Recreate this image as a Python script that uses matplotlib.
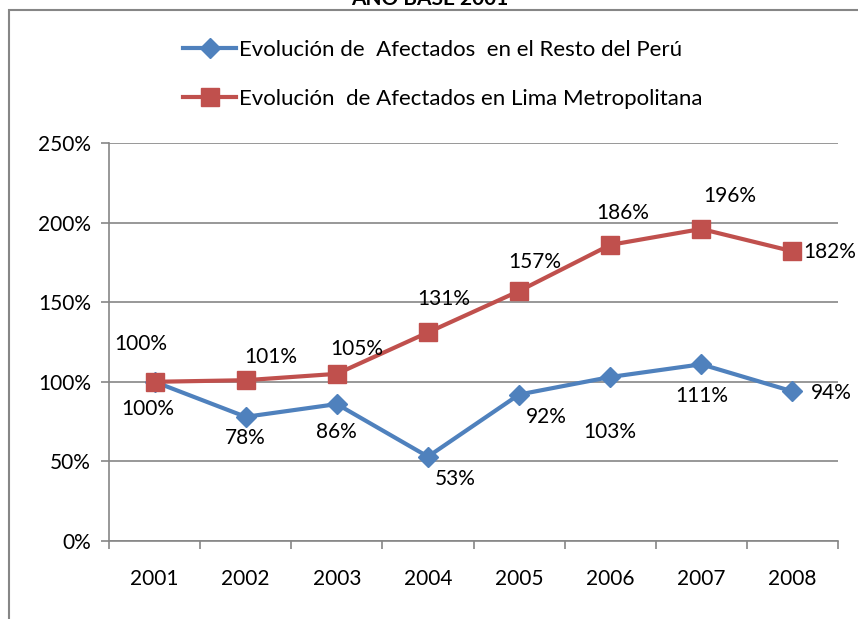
import numpy as np
import matplotlib
matplotlib.use("Agg")
import matplotlib.pyplot as plt
from matplotlib.patches import Rectangle

plt.rcParams['font.family'] = ['Lato', 'DejaVu Sans']

years = ["2001", "2002", "2003", "2004", "2005", "2006", "2007", "2008"]
resto_peru = [100, 78, 86, 53, 92, 103, 111, 94]
lima_metro = [100, 101, 105, 131, 157, 186, 196, 182]
label_resto = "Evolución de  Afectados  en el Resto del Perú"
label_lima = "Evolución  de Afectados en Lima Metropolitana"

# label offsets (pixels) as placed in the original chart
off_resto = [(-7, -27), (0, -21), (0, -28), (27, -22), (27, -22), (0, -55), (0, -32), (39, -2)]
off_lima = [(-14, 38), (25, 23), (20, 25), (16, 33), (16, 29), (13, 32), (28, 33), (37, -1)]

blue = "#4F81BD"
red = "#C0504D"
grid_c = "#868686"
fs = 15

fig = plt.figure(figsize=(8.58, 6.19), dpi=100)
W, H = 858, 619
ax = fig.add_axes([109 / W, 1 - 541 / H, (838 - 109) / W, (541 - 143) / H])

x = np.arange(len(years))
ax.plot(x, resto_peru, color=blue, lw=3, marker="D", ms=10, label=label_resto, zorder=3)
ax.plot(x, lima_metro, color=red, lw=3, marker="s", ms=12.5, label=label_lima, zorder=3)

for i, v in enumerate(resto_peru):
    ax.annotate(f"{v}%", (x[i], v), xytext=off_resto[i], textcoords="offset pixels",
                ha="center", va="center", fontsize=fs)
for i, v in enumerate(lima_metro):
    ax.annotate(f"{v}%", (x[i], v), xytext=off_lima[i], textcoords="offset pixels",
                ha="center", va="center", fontsize=fs)

ax.set_xlim(-0.5, len(years) - 0.5)
ax.set_ylim(0, 250)
ax.set_yticks(np.arange(0, 251, 50))
ax.set_yticklabels([f"{t}%" for t in range(0, 251, 50)], fontsize=fs)
ax.set_xticks(x)
ax.set_xticklabels(years, fontsize=fs)
ax.set_xticks(np.arange(-0.5, len(years), 1), minor=True)
ax.tick_params(axis="x", which="major", length=0, pad=20)
ax.tick_params(axis="x", which="minor", length=6, color=grid_c, direction="out", width=1.2)
ax.tick_params(axis="y", length=6, color=grid_c, width=1.2, pad=7)
ax.yaxis.grid(True, color=grid_c, lw=1.2)
ax.set_axisbelow(True)
for s in ["top", "right"]:
    ax.spines[s].set_visible(False)
for s in ["left", "bottom"]:
    ax.spines[s].set_color(grid_c)
    ax.spines[s].set_linewidth(1.2)

ax.legend(loc="upper left", bbox_to_anchor=(183 / W, 1 - 40 / H), bbox_transform=fig.transFigure,
          frameon=False, fontsize=16, handlelength=2.4, labelspacing=1.3, handletextpad=0.1,
          borderaxespad=0, borderpad=0)

fig.patches.append(Rectangle((9 / W, -0.1), 1.2, 1 - 10 / H + 0.1, transform=fig.transFigure,
                             fill=False, edgecolor=grid_c, lw=1.5))
fig.text(430 / W, 1 + 1 / H, "AÑO BASE 2001", ha="center", va="center", fontsize=fs,
         fontweight="bold")

fig.savefig("out.png", dpi=100)
